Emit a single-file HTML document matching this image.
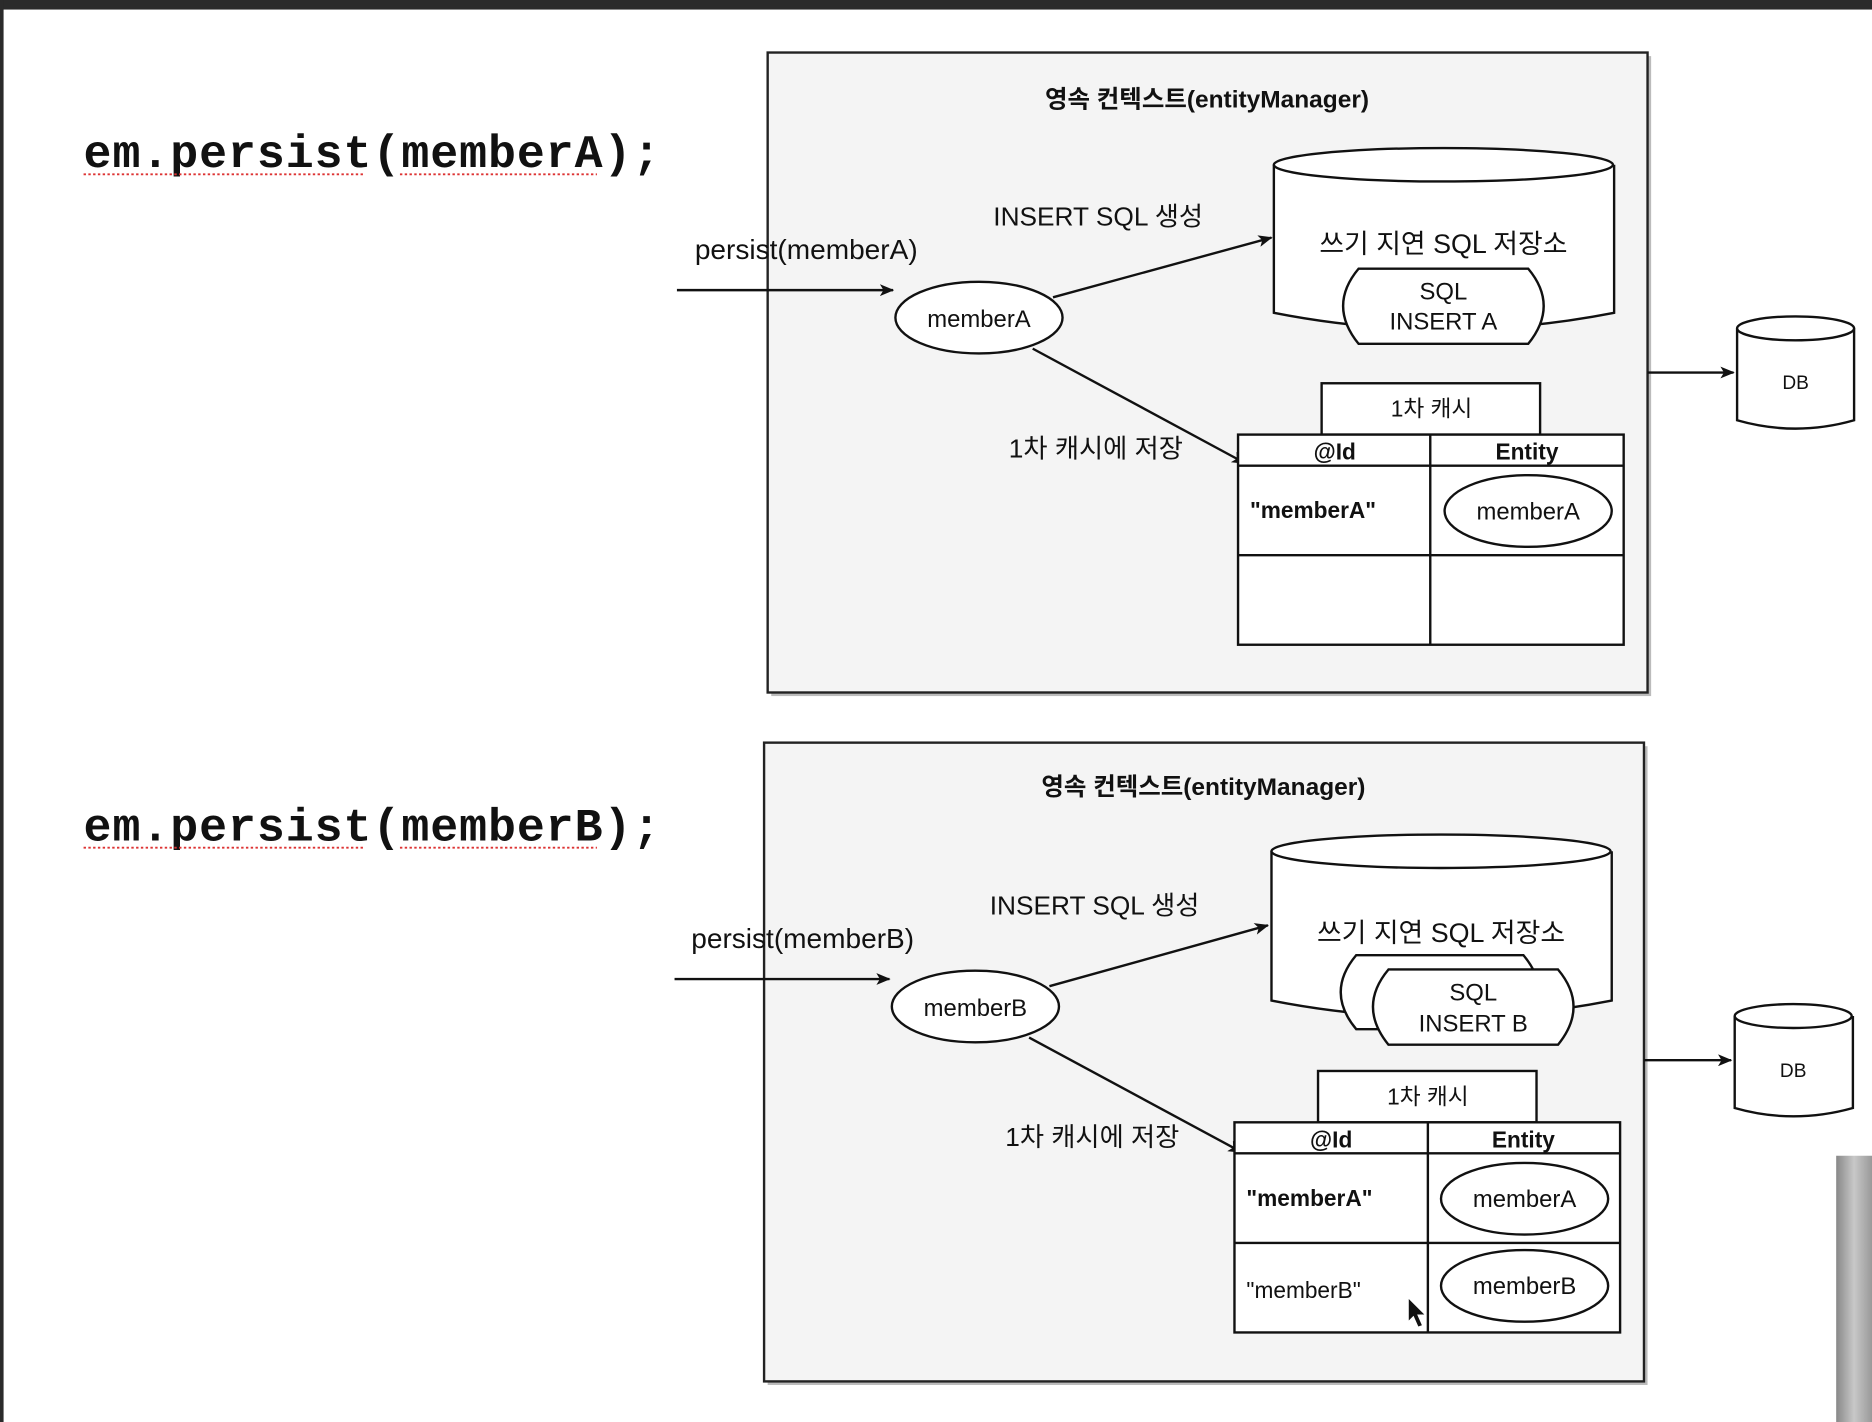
<!DOCTYPE html>
<html><head><meta charset="utf-8"><style>
html,body{margin:0;padding:0;background:#fff;width:1872px;height:1422px;overflow:hidden}
svg{display:block}
text{font-family:"Liberation Sans","Noto Sans CJK KR",sans-serif;fill:#111}
.code{font-family:"Liberation Mono",monospace;font-weight:bold;font-size:39px;letter-spacing:0.8px}
</style></head><body>
<svg width="1872" height="1422" viewBox="0 0 1568 1191" preserveAspectRatio="none">
<defs>
<marker id="ar" markerWidth="12" markerHeight="10" refX="11" refY="5" orient="auto" markerUnits="userSpaceOnUse"><path d="M0,0 L12,5 L0,10 L3,5 z" fill="#111"/></marker>
<linearGradient id="gg" x1="0" x2="1"><stop offset="0" stop-color="#888"/><stop offset="0.5" stop-color="#c8c8c8"/><stop offset="1" stop-color="#999"/></linearGradient>
</defs>
<rect x="0" y="0" width="1568" height="8" fill="#2b2b2b"/>
<rect x="0" y="0" width="3" height="1191" fill="#2b2b2b"/>
<rect x="1538" y="968" width="30" height="223" fill="url(#gg)"/>

<g id="p1">
<rect x="646" y="47" width="737" height="536" fill="#bbb"/>
<rect x="643" y="44" width="737" height="536" fill="#f4f4f4" stroke="#222" stroke-width="2"/>
<text x="1011" y="90" text-anchor="middle" font-size="20.5" font-weight="bold">영속 컨텍스트(entityManager)</text>
<text class="code" x="70" y="140">em.persist(memberA);</text>
<path d="M70,146 H305 M335,146 H500" stroke="#d33" stroke-width="1.5" stroke-dasharray="2,2"/>
<line x1="567" y1="243" x2="748" y2="243" stroke="#111" stroke-width="2" marker-end="url(#ar)"/>
<text x="582" y="217" font-size="23.5">persist(memberA)</text>
<ellipse cx="820" cy="266" rx="70" ry="30" fill="#fff" stroke="#111" stroke-width="2"/>
<text x="820" y="274" text-anchor="middle" font-size="20">memberA</text>
<text x="832" y="189" font-size="22">INSERT SQL 생성</text>
<line x1="882" y1="249" x2="1065" y2="199" stroke="#111" stroke-width="2" marker-end="url(#ar)"/>
<path d="M1067,138 V262 Q1209,290 1352,262 V138" fill="#fff" stroke="#111" stroke-width="2"/>
<ellipse cx="1209" cy="138" rx="142" ry="14" fill="#fff" stroke="#111" stroke-width="2"/>
<text x="1209" y="212" text-anchor="middle" font-size="22.5">쓰기 지연 SQL 저장소</text>
<path d="M1138,225 H1280 Q1306,256 1280,288 H1138 Q1112,256 1138,225 z" fill="#fff" stroke="#111" stroke-width="2"/>
<text x="1209" y="251" text-anchor="middle" font-size="20">SQL</text>
<text x="1209" y="276" text-anchor="middle" font-size="20">INSERT A</text>
<line x1="865" y1="292" x2="1043" y2="388" stroke="#111" stroke-width="2" marker-end="url(#ar)"/>
<text x="845" y="383" font-size="22">1차 캐시에 저장</text>
<rect x="1107" y="321" width="183" height="43" fill="#fff" stroke="#111" stroke-width="2"/>
<text x="1199" y="349" text-anchor="middle" font-size="19">1차 캐시</text>
<rect x="1037" y="364" width="323" height="176" fill="#fff" stroke="#111" stroke-width="2"/>
<path d="M1037,390 H1360 M1037,465 H1360 M1198,364 V540" stroke="#111" stroke-width="2"/>
<text x="1118" y="385" text-anchor="middle" font-size="19" font-weight="bold">@Id</text>
<text x="1279" y="385" text-anchor="middle" font-size="19" font-weight="bold">Entity</text>
<text x="1047" y="434" font-size="19" font-weight="bold">"memberA"</text>
<ellipse cx="1280" cy="428" rx="70" ry="30" fill="#fff" stroke="#111" stroke-width="2"/>
<text x="1280" y="435" text-anchor="middle" font-size="20">memberA</text>
<line x1="1380" y1="312" x2="1452" y2="312" stroke="#111" stroke-width="2" marker-end="url(#ar)"/>
<path d="M1455,275 V352 Q1504,366 1553,352 V275" fill="#fff" stroke="#111" stroke-width="2"/>
<ellipse cx="1504" cy="275" rx="49" ry="10" fill="#fff" stroke="#111" stroke-width="2"/>
<text x="1504" y="326" text-anchor="middle" font-size="16">DB</text>
</g>

<g id="p2">
<rect x="643" y="625" width="737" height="535" fill="#bbb"/>
<rect x="640" y="622" width="737" height="535" fill="#f4f4f4" stroke="#222" stroke-width="2"/>
<text x="1008" y="666" text-anchor="middle" font-size="20.5" font-weight="bold">영속 컨텍스트(entityManager)</text>
<text class="code" x="70" y="704">em.persist(memberB);</text>
<path d="M70,710 H305 M335,710 H500" stroke="#d33" stroke-width="1.5" stroke-dasharray="2,2"/>
<line x1="565" y1="820" x2="745" y2="820" stroke="#111" stroke-width="2" marker-end="url(#ar)"/>
<text x="579" y="794" font-size="23.5">persist(memberB)</text>
<ellipse cx="817" cy="843" rx="70" ry="30" fill="#fff" stroke="#111" stroke-width="2"/>
<text x="817" y="851" text-anchor="middle" font-size="20">memberB</text>
<text x="829" y="766" font-size="22">INSERT SQL 생성</text>
<line x1="879" y1="826" x2="1062" y2="775" stroke="#111" stroke-width="2" marker-end="url(#ar)"/>
<path d="M1065,713 V838 Q1207,866 1350,838 V713" fill="#fff" stroke="#111" stroke-width="2"/>
<ellipse cx="1207" cy="713" rx="142" ry="14" fill="#fff" stroke="#111" stroke-width="2"/>
<text x="1207" y="789" text-anchor="middle" font-size="22.5">쓰기 지연 SQL 저장소</text>
<path d="M1136,800 H1276 Q1302,831 1276,862 H1136 Q1110,831 1136,800 z" fill="#fff" stroke="#111" stroke-width="2"/>
<path d="M1163,812 H1305 Q1331,843 1305,875 H1163 Q1137,843 1163,812 z" fill="#fff" stroke="#111" stroke-width="2"/>
<text x="1234" y="838" text-anchor="middle" font-size="20">SQL</text>
<text x="1234" y="864" text-anchor="middle" font-size="20">INSERT B</text>
<line x1="862" y1="869" x2="1040" y2="965" stroke="#111" stroke-width="2" marker-end="url(#ar)"/>
<text x="842" y="960" font-size="22">1차 캐시에 저장</text>
<rect x="1104" y="897" width="183" height="43" fill="#fff" stroke="#111" stroke-width="2"/>
<text x="1196" y="925" text-anchor="middle" font-size="19">1차 캐시</text>
<rect x="1034" y="940" width="323" height="176" fill="#fff" stroke="#111" stroke-width="2"/>
<path d="M1034,966 H1357 M1034,1041 H1357 M1196,940 V1116" stroke="#111" stroke-width="2"/>
<text x="1115" y="961" text-anchor="middle" font-size="19" font-weight="bold">@Id</text>
<text x="1276" y="961" text-anchor="middle" font-size="19" font-weight="bold">Entity</text>
<text x="1044" y="1010" font-size="19" font-weight="bold">"memberA"</text>
<ellipse cx="1277" cy="1004" rx="70" ry="30" fill="#fff" stroke="#111" stroke-width="2"/>
<text x="1277" y="1011" text-anchor="middle" font-size="20">memberA</text>
<text x="1044" y="1087" font-size="19">"memberB"</text>
<ellipse cx="1277" cy="1077" rx="70" ry="30" fill="#fff" stroke="#111" stroke-width="2"/>
<text x="1277" y="1084" text-anchor="middle" font-size="20">memberB</text>
<path d="M1180,1088 L1180,1106 L1184,1102 L1188,1111 L1191,1110 L1187,1101 L1193,1101 z" fill="#111"/>
<line x1="1377" y1="888" x2="1450" y2="888" stroke="#111" stroke-width="2" marker-end="url(#ar)"/>
<path d="M1453,851 V928 Q1502,942 1552,928 V851" fill="#fff" stroke="#111" stroke-width="2"/>
<ellipse cx="1502" cy="851" rx="49" ry="10" fill="#fff" stroke="#111" stroke-width="2"/>
<text x="1502" y="902" text-anchor="middle" font-size="16">DB</text>
</g>
</svg>
</body></html>
